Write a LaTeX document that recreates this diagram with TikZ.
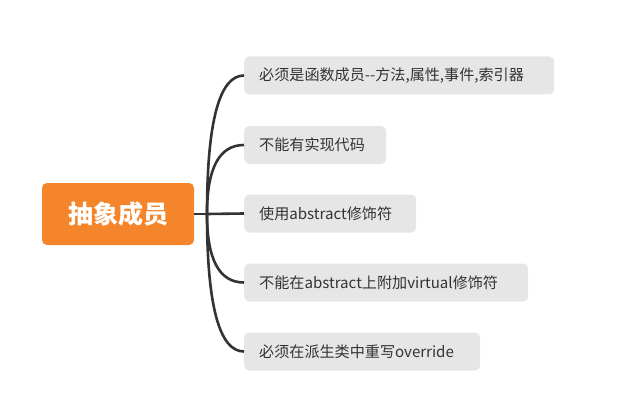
\documentclass[tikz,border=0pt]{standalone}
\usepackage{fontspec}
\newfontfamily\cjk{Noto Sans CJK SC}
\definecolor{rootor}{HTML}{F5852A}
\definecolor{leafbg}{HTML}{E6E6E6}
\definecolor{txt}{HTML}{333333}
\definecolor{lnk}{HTML}{333333}
\begin{document}
\begin{tikzpicture}[x=1pt,y=-1pt,
  rootbox/.style={fill=rootor,rounded corners=5pt,minimum width=152pt,minimum height=62pt,inner sep=0pt,text=white,font=\cjk\bfseries\fontsize{25}{30}\selectfont},
  leafbox/.style={fill=leafbg,rounded corners=5pt,anchor=west,minimum height=38pt,inner xsep=15pt,inner ysep=0pt,align=left,text=txt,font=\cjk\fontsize{15.1}{18}\selectfont},
  link/.style={draw=lnk,line width=2.6pt}]
\useasboundingbox (0,0) rectangle (628,409);
\node[rootbox] (root) at (118,214) {抽象成员};
\node[leafbox,text width=280pt] (b1) at (244,75.5) {必须是函数成员--方法,属性,事件,索引器};
\node[leafbox,text width=112pt] (b2) at (244,145) {不能有实现代码};
\node[leafbox,text width=142pt] (b3) at (244,213.5) {使用abstract修饰符};
\node[leafbox,text width=254pt] (b4) at (244,282.5) {不能在abstract上附加virtual修饰符};
\node[leafbox,text width=206pt] (b5) at (244,351.5) {必须在派生类中重写override};
\coordinate (j) at (207,214);
\draw[link] (root.east) -- (j);
\draw[link] (j) .. controls (207,121.7) and (219.3,75.5) .. (b1.west);
\draw[link] (j) .. controls (207,168) and (219.3,145) .. (b2.west);
\draw[link] (j) -- (b3.west);
\draw[link] (j) .. controls (207,259.7) and (219.3,282.5) .. (b4.west);
\draw[link] (j) .. controls (207,305.7) and (219.3,351.5) .. (b5.west);
\end{tikzpicture}
\end{document}
